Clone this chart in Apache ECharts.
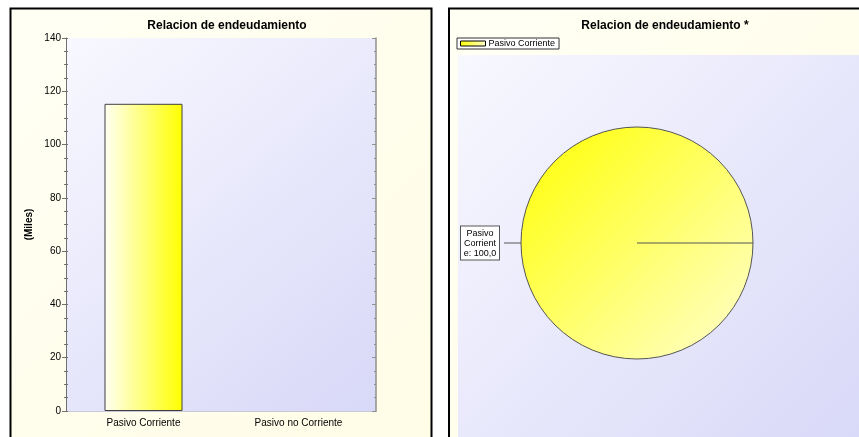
<!DOCTYPE html>
<html><head><meta charset="utf-8">
<script src="https://cdn.jsdelivr.net/npm/echarts@6/dist/echarts.min.js"></script>
<style>html,body{margin:0;padding:0;background:#fff}#c{width:859px;height:437px}</style>
</head><body><div id="c"></div>
<script>
const barTitle = 'Relacion de endeudamiento';
const pieTitle = 'Relacion de endeudamiento *';
const categories = ['Pasivo Corriente', 'Pasivo no Corriente'];
const barValues = [115.3, 0];
const pieNames = ['Pasivo Corriente'];
const pieValues = [115.3];
const yTicks = [0, 20, 40, 60, 80, 100, 120, 140];

function wrap(text, max) {
  const words = text.split(' ');
  const lines = [];
  let cur = '';
  words.forEach(w => {
    let cand = cur ? cur + ' ' + w : w;
    if (cand.length <= max) { cur = cand; return; }
    if (cur) { lines.push(cur); cur = ''; }
    while (w.length > max) { lines.push(w.slice(0, max)); w = w.slice(max); }
    cur = w;
  });
  if (cur) lines.push(cur);
  return lines;
}

const chart = echarts.init(document.getElementById('c'), null, {renderer: 'canvas'});
const font = 'Liberation Sans, Arial, sans-serif';
const panelBg = {type:'linear', x:0, y:0, x2:1, y2:1, colorStops:[{offset:0,color:'#fffff4'},{offset:1,color:'#fffde6'}]};
const plotBg = {type:'linear', x:0, y:0, x2:1, y2:1, colorStops:[{offset:0,color:'#f8f8ff'},{offset:1,color:'#d8d8f8'}]};
const pieCx = 637, pieCy = 243, pieR = 116;

chart.setOption({
  backgroundColor: '#ffffff',
  animation: false,
  textStyle: {fontFamily: font},
  title: [
    {text: barTitle, left: 222, top: 15, textAlign: 'center', textStyle: {fontSize: 12, fontWeight: 'bold', color: '#000', fontFamily: font}},
    {text: pieTitle, left: 660, top: 15, textAlign: 'center', textStyle: {fontSize: 12, fontWeight: 'bold', color: '#000', fontFamily: font}}
  ],
  legend: {
    data: pieNames, left: 457, top: 38, orient: 'vertical',
    backgroundColor: '#fff', borderColor: '#333', borderWidth: 1, padding: [1, 4, 1, 3],
    itemWidth: 25, itemHeight: 5, icon: 'rect', itemGap: 2,
    itemStyle: {borderColor: '#000', borderWidth: 1},
    textStyle: {fontSize: 9, color: '#000', fontFamily: font, padding: [0, 0, 0, -2]}
  },
  grid: {left: 66, right: 483, top: 38, bottom: 26, show: true, backgroundColor: plotBg, borderWidth: 0},
  xAxis: [
    {type: 'category', data: categories, position: 'bottom',
     axisLine: {lineStyle: {color: '#707070'}},
     axisTick: {alignWithLabel: true, length: 4, lineStyle: {color: '#707070'}},
     axisLabel: {fontSize: 10, color: '#000', margin: 7, fontFamily: font}},
    {type: 'category', data: categories, position: 'top',
     axisLine: {lineStyle: {color: '#c8c8d8'}},
     axisTick: {alignWithLabel: true, inside: true, length: 4, lineStyle: {color: '#909090'}},
     axisLabel: {show: false}}
  ],
  yAxis: [
    {type: 'value', min: 0, max: 140, interval: 20, position: 'left',
     name: '(Miles)', nameLocation: 'middle', nameGap: 32, nameRotate: 90,
     nameTextStyle: {fontSize: 10, fontWeight: 'bold', color: '#000', fontFamily: font},
     axisLine: {show: true, lineStyle: {color: '#707070'}},
     axisTick: {show: true, length: 4, lineStyle: {color: '#707070'}},
     minorTick: {show: true, splitNumber: 4, length: 2, lineStyle: {color: '#707070'}},
     splitLine: {show: false},
     axisLabel: {fontSize: 10, color: '#000', margin: 5, fontFamily: font,
       formatter: v => yTicks.indexOf(v) >= 0 ? String(v) : ''}},
    {type: 'value', min: 0, max: 140, interval: 20, position: 'right',
     axisLine: {show: true, lineStyle: {color: '#909090', width: 1.5}},
     axisTick: {show: true, inside: true, length: 4, lineStyle: {color: '#909090'}},
     minorTick: {show: true, splitNumber: 4, length: 2, lineStyle: {color: '#909090'}},
     splitLine: {show: false}, axisLabel: {show: false}},
    {type: 'value', min: 0, max: 140, interval: 20, position: 'left',
     axisLine: {show: false},
     axisTick: {show: true, inside: true, length: 2, lineStyle: {color: '#707070'}},
     minorTick: {show: true, splitNumber: 4, length: 2, lineStyle: {color: '#707070'}},
     splitLine: {show: false}, axisLabel: {show: false}}
  ],
  series: [
    {name: 'Relacion', type: 'bar', xAxisIndex: 0, yAxisIndex: 0, barWidth: 78,
     data: barValues.map(v => ({value: v, itemStyle: v === 0 ? {borderWidth: 0, opacity: 0} : {}})),
     itemStyle: {color: {type:'linear', x:0, y:0, x2:1, y2:0, colorStops:[{offset:0,color:'#fffff4'},{offset:1,color:'#ffff00'}]},
       borderColor: '#404040', borderWidth: 1}},
    {name: 'Pie', type: 'pie', center: [pieCx, pieCy], radius: pieR, startAngle: 0, clockwise: true,
     data: pieNames.map((n, i) => ({name: n, value: pieValues[i]})),
     itemStyle: {color: {type:'linear', x:0, y:0, x2:1, y2:1, colorStops:[{offset:0,color:'#ffff00'},{offset:1,color:'#ffffd0'}]},
       borderColor: '#555', borderWidth: 1},
     label: {show: true, position: 'outside', fontSize: 9, color: '#000', fontFamily: font,
       backgroundColor: '#fff', borderColor: '#555', borderWidth: 1, padding: [2, 1, 1, 1],
       rich: {t: {fontSize: 9, lineHeight: 10, width: 36, align: 'center', color: '#000', fontFamily: font}},
       formatter: p => wrap(p.name + ': ' + p.percent.toFixed(1).replace('.', ','), 8).map(l => '{t|' + l + '}').join('\n')},
     labelLine: {show: true, length: 10, length2: 7, lineStyle: {color: '#555', width: 1}},
     emphasis: {disabled: true}}
  ],
  graphic: [
    {type: 'rect', z: -5, shape: {x: 11, y: 9, width: 421, height: 440}, style: {fill: panelBg}},
    {type: 'rect', z: -5, shape: {x: 449, y: 9, width: 420, height: 440}, style: {fill: panelBg}},
    {type: 'rect', z: -4, shape: {x: 458, y: 55, width: 410, height: 390}, style: {fill: plotBg}},
    {type: 'rect', z: 100, shape: {x: 10.5, y: 8.5, width: 421, height: 440}, style: {fill: null, stroke: '#000', lineWidth: 2}},
    {type: 'rect', z: 100, shape: {x: 449, y: 8.5, width: 420, height: 440}, style: {fill: null, stroke: '#000', lineWidth: 2}},
    {type: 'line', z: 50, shape: {x1: pieCx, y1: pieCy, x2: pieCx + pieR, y2: pieCy}, style: {stroke: '#555', lineWidth: 1}}
  ]
});
</script></body></html>
